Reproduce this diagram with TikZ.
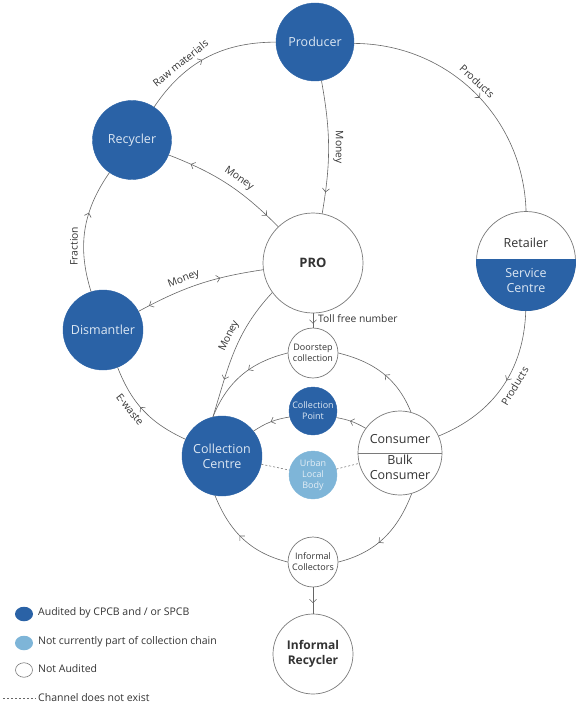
\documentclass[tikz,border=0pt]{standalone}
\usepackage{fontspec}
\setmainfont{Open Sans}
\usetikzlibrary{arrows.meta,decorations.markings,shapes.geometric}
\definecolor{dblue}{HTML}{2A62A6}
\definecolor{lblue}{HTML}{7EB5D8}
\definecolor{ltext}{HTML}{DCE7F3}
\definecolor{ltext2}{HTML}{E4EEF6}
\definecolor{linec}{HTML}{666666}
\definecolor{bordc}{HTML}{7A7A7A}
\definecolor{txt}{HTML}{333333}
\tikzset{
  tip/.tip={Straight Barb[length=3.5pt,width=7pt]},
  aud/.style={circle, fill=dblue, draw=dblue, text=ltext, inner sep=0pt, align=center},
  naud/.style={circle, fill=white, draw=bordc, line width=0.7pt, text=txt, inner sep=0pt, align=center},
  npart/.style={circle, fill=lblue, draw=lblue, text=ltext2, inner sep=0pt, align=center},
  bigsz/.style={font=\fontsize{12.5}{15}\selectfont},
  smallsz/.style={font=\fontsize{9}{11}\selectfont},
  conn/.style={color=linec, line width=0.6pt},
  dashline/.style={color=linec, line width=0.5pt, dash pattern=on 2pt off 2pt},
  lbl/.style={font=\fontsize{10.3}{12}\selectfont, text=txt, inner sep=1.5pt},
  legtxt/.style={font=\fontsize{10.5}{12}\selectfont, text=txt, inner sep=0pt, anchor=west},
  midarr/.style={postaction={decorate}, decoration={markings, mark=at position #1 with {\arrow[linec, line width=0.6pt]{tip}}}},
  dblarr/.style 2 args={postaction={decorate}, decoration={markings,
     mark=at position #1 with {\arrowreversed[linec, line width=0.6pt]{tip}},
     mark=at position #2 with {\arrow[linec, line width=0.6pt]{tip}}}},
}
\begin{document}
\begin{tikzpicture}[x=1pt,y=1pt]
\useasboundingbox (0,0) rectangle (577,-706);

% ---------- nodes ----------
\node[aud, bigsz, minimum size=78pt] (prod) at (315,-42) {Producer};
\node[aud, bigsz, minimum size=79pt] (recy) at (132,-140) {Recycler};
\node[aud, bigsz, minimum size=80pt] (dism) at (103,-330) {Dismantler};
\node[naud, minimum size=100pt, font=\fontsize{13}{15}\selectfont\bfseries] (pro) at (313,-263) {PRO};
\node[naud, minimum size=99pt] (ret) at (526,-261) {};
\begin{scope}
  \clip (ret.center) circle[radius=50];
  \fill[dblue] ([shift={(-52,2)}]ret.center) rectangle ([shift={(52,-52)}]ret.center);
\end{scope}
\node[bigsz, text=txt] (retA) at (526,-243) {Retailer};
\node[bigsz, text=ltext, align=center] (retB) at (526,-280.5) {Service\\Centre};

\node[aud, bigsz, minimum size=80pt, align=center] (cc) at (222,-456) {Collection\\Centre};
\node[naud, minimum size=84pt] (cons) at (400,-453) {};
\draw[bordc, line width=0.7pt] (cons.west) -- (cons.east);
\node[bigsz, text=txt] (consA) at (400,-439.5) {Consumer};
\node[bigsz, text=txt, align=center] (consB) at (400,-467.5) {Bulk\\Consumer};

\node[naud, smallsz, minimum size=50pt] (door) at (313,-353) {Doorstep\\collection};
\node[aud, smallsz, minimum size=48pt] (cp) at (313,-411) {Collection\\Point};
\node[npart, smallsz, minimum size=48pt] (ulb) at (313,-475) {Urban\\Local\\Body};
\node[naud, smallsz, minimum size=50pt] (ic) at (313,-562) {Informal\\Collectors};
\node[naud, minimum size=80pt, font=\fontsize{12}{15}\selectfont\bfseries] (ir) at (313,-654) {Informal\\Recycler};

% ---------- outer ring ----------
\draw[conn, midarr=0.47] (recy) to[bend left=28] node[lbl, pos=0.33, sloped, above=4pt] (lraw) {Raw materials} (prod);
\draw[conn, midarr=0.53] (prod) to[bend left=44] node[lbl, pos=0.48, sloped, above=4pt] (lpr1) {Products} (ret);
\draw[conn, midarr=0.45] (ret) to[bend left=33] node[lbl, pos=0.45, sloped, below=4pt] (lpr2) {Products} (cons);
\draw[conn, midarr=0.55] (cc) to[bend left=22] node[lbl, pos=0.6, sloped, below=4pt] (lew) {E-waste} (dism);
\draw[conn, midarr=0.64] (dism) to[bend left=26] node[lbl, pos=0.36, sloped, above=4pt] (lfr) {Fraction} (recy);

% ---------- inner ring ----------
\draw[conn, midarr=0.47] (cons.75) to[out=112, in=-14] (door.east);
\draw[conn, midarr=0.42] (door.west) to[out=194, in=68] (cc.103);
\draw[conn, midarr=0.57] (cons.-74) to[out=-111, in=14] (ic.east);
\draw[conn, midarr=0.54] (ic.west) to[out=166, in=-68] (cc.-100);
\draw[conn, midarr=0.55] (cons) to[bend right=10] (cp);
\draw[conn, midarr=0.5] (cp) to[bend right=12] (cc);
\draw[dashline] (cc) -- (ulb);
\draw[dashline] (ulb) -- (cons);

% ---------- money flows ----------
\draw[conn, midarr=0.84] (prod) to[bend left=10] node[lbl, pos=0.5, sloped, above=3pt] (lm1) {Money} (pro);
\draw[conn, dblarr={0.18}{0.88}] (recy) to[bend left=12] node[lbl, pos=0.55, sloped, above=4pt] (lm2) {Money} (pro);
\draw[conn, dblarr={0.09}{0.67}] (dism) to[bend left=10] node[lbl, pos=0.4, sloped, above=3pt] (lm3) {Money} (pro);
\draw[conn, midarr=0.72] (pro.216) to[out=227, in=73] node[lbl, pos=0.42, sloped, above=4pt] (lm4) {Money} (cc.103);

\draw[conn, midarr=0.72] (pro) -- (door);
\node[lbl, inner sep=0pt, anchor=west] (toll) at (318,-319) {Toll free number};
\draw[conn, midarr=0.6] (ic) -- (ir);

% ---------- legend ----------
\node[ellipse, fill=dblue, minimum width=18pt, minimum height=14.5pt, inner sep=0pt] (lg1) at (24,-614) {};
\node[legtxt] (lt1) at (38,-613) {Audited by CPCB and / or SPCB};
\node[ellipse, fill=lblue, minimum width=18pt, minimum height=14.5pt, inner sep=0pt] (lg2) at (24,-643) {};
\node[legtxt] (lt2) at (38,-642) {Not currently part of collection chain};
\node[ellipse, draw=bordc, line width=0.6pt, fill=white, minimum width=17pt, minimum height=14.5pt, inner sep=0pt] (lg3) at (24,-670) {};
\node[legtxt] (lt3) at (38,-669) {Not Audited};
\coordinate (lgA) at (3,-698);
\coordinate (lgB) at (36,-698);
\draw[dashline] (lgA) -- (lgB);
\node[legtxt] (lt4) at (38,-698) {Channel does not exist};
\end{tikzpicture}
\end{document}
